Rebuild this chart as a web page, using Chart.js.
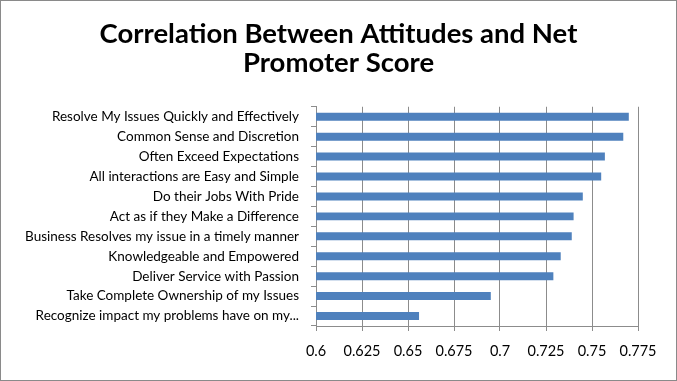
<!DOCTYPE html>
<html>
<head>
<meta charset="utf-8">
<script src="https://cdn.jsdelivr.net/npm/chart.js@4"></script>
<style>
  body { margin: 0; background: #fff; }
  .wrap { position: relative; width: 677px; height: 381px; }
  .frame { position: absolute; left: 0; top: 0; width: 677px; height: 381px; box-sizing: border-box; border: 1px solid #8a8a8a; pointer-events: none; }
</style>
</head>
<body>
<div class="wrap">
  <canvas id="myChart" width="677" height="381"></canvas>
  <div class="frame"></div>
</div>
<script>
const categories = [
  'Resolve My Issues Quickly and Effectively',
  'Common Sense and Discretion',
  'Often Exceed Expectations',
  'All interactions are Easy and Simple',
  'Do their Jobs With Pride',
  'Act as if they Make a Difference',
  'Business Resolves my issue in a timely manner',
  'Knowledgeable and Empowered',
  'Deliver Service with Passion',
  'Take Complete Ownership of my Issues',
  'Recognize impact my problems have on my...'
];
const correlation = [0.770, 0.767, 0.757, 0.755, 0.745, 0.740, 0.739, 0.733, 0.729, 0.695, 0.656];
const xTicks = [0.6, 0.625, 0.65, 0.675, 0.7, 0.725, 0.75, 0.775];

const gridGray = '#8c8c8c';
const font = 'Lato, "Liberation Sans", sans-serif';

var ctx = document.getElementById('myChart');
var myBarChart = new Chart(ctx, {
  type: 'bar',
  data: {
    labels: categories,
    datasets: [{
      label: 'Correlation',
      data: correlation,
      backgroundColor: '#4f81bd',
      borderWidth: 0,
      barPercentage: 0.4,
      categoryPercentage: 1.0
    }]
  },
  options: {
    indexAxis: 'y',
    responsive: false,
    animation: false,
    layout: { padding: 0 },
    plugins: {
      legend: { display: false },
      tooltip: { enabled: false },
      title: {
        display: true,
        text: ['Correlation Between Attitudes and Net', 'Promoter Score'],
        color: '#000',
        font: { family: font, size: 27.5, weight: 'bold', lineHeight: 1.05 },
        padding: { top: 20, bottom: 29 }
      }
    },
    scales: {
      x: {
        min: 0.6,
        max: 0.775,
        afterBuildTicks: (scale) => { scale.ticks = xTicks.map(v => ({ value: v })); },
        afterFit: (scale) => { scale.height = 55; scale.paddingRight = 39; },
        grid: { color: gridGray, tickLength: 5, tickColor: gridGray },
        border: { color: gridGray },
        ticks: {
          color: '#000',
          padding: 12,
          maxRotation: 0,
          font: { family: font, size: 14.5 },
          callback: (v) => String(+Number(v).toFixed(3))
        }
      },
      y: {
        afterFit: (scale) => { scale.width = 316; },
        grid: { drawOnChartArea: false, offset: true, tickLength: 5, tickColor: gridGray },
        border: { color: gridGray },
        ticks: {
          color: '#000',
          padding: 12,
          autoSkip: false,
          font: { family: font, size: 13.5 }
        }
      }
    }
  }
});
</script>
</body>
</html>
